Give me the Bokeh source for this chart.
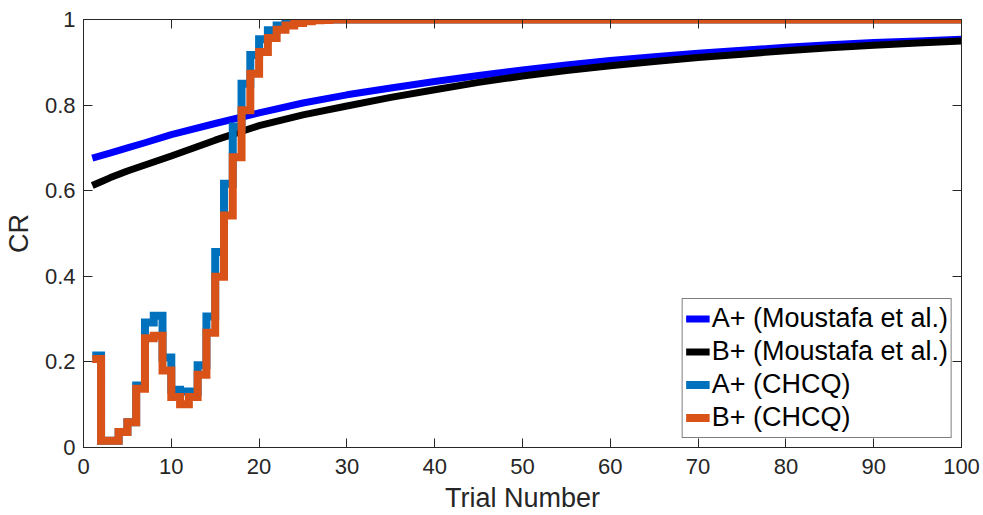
from bokeh.plotting import figure
from bokeh.models import Range1d, FixedTicker, LinearAxis, Legend, LegendItem
from bokeh.embed import file_html
from bokeh.resources import INLINE

# Trial-by-trial conditioned response (CHCQ model), one value per trial
trials = list(range(1, 101))
a_chcq = [0.215, 0.016, 0.016, 0.036, 0.059, 0.145, 0.292, 0.308, 0.210, 0.135,
          0.131, 0.130, 0.192, 0.306, 0.457, 0.616, 0.750, 0.850, 0.917, 0.954,
          0.975, 0.986, 0.993, 0.997, 0.999] + [1.0] * 75
b_chcq = [0.207, 0.016, 0.016, 0.036, 0.059, 0.137, 0.255, 0.261, 0.180, 0.118,
          0.101, 0.118, 0.170, 0.268, 0.399, 0.542, 0.678, 0.788, 0.873, 0.924,
          0.957, 0.976, 0.986, 0.992, 0.996, 0.998, 0.999] + [1.0] * 73

# Moustafa et al. curves, sampled along the trial axis
model_trials = [1, 2, 3, 5, 7, 10, 15, 20, 25, 30, 35, 40, 45, 50, 55, 60,
                65, 70, 75, 80, 85, 90, 95, 100]
a_model = [0.676, 0.682, 0.688, 0.700, 0.712, 0.731, 0.757, 0.782, 0.805, 0.824,
           0.840, 0.855, 0.869, 0.882, 0.894, 0.904, 0.913, 0.921, 0.928, 0.935,
           0.941, 0.946, 0.950, 0.954]
b_model = [0.612, 0.621, 0.630, 0.646, 0.660, 0.681, 0.718, 0.752, 0.777, 0.798,
           0.818, 0.836, 0.853, 0.868, 0.881, 0.892, 0.902, 0.911, 0.919, 0.927,
           0.934, 0.940, 0.945, 0.950]

x_ticks = [0, 10, 20, 30, 40, 50, 60, 70, 80, 90, 100]
y_ticks = [0, 0.2, 0.4, 0.6, 0.8, 1]
y_labels = {0: "0", 0.2: "0.2", 0.4: "0.4", 0.6: "0.6", 0.8: "0.8", 1: "1"}

FONT = "Liberation Sans"
AX = "#262626"

p = figure(width=983, height=515, output_backend="svg", toolbar_location=None,
           x_range=Range1d(0, 100), y_range=Range1d(0, 1),
           min_border_left=82, min_border_right=22, min_border_top=19,
           min_border_bottom=66)
p.grid.visible = False
p.outline_line_color = AX
p.outline_line_width = 1
p.background_fill_color = "white"
p.border_fill_color = "white"

r_a_model = p.line(model_trials, a_model, line_color="#0000FF", line_width=7,
                   line_join="round")
r_b_model = p.line(model_trials, b_model, line_color="#000000", line_width=7,
                   line_join="round")
r_a = p.step(trials, a_chcq, mode="after", line_color="#0072BD", line_width=8,
             line_join="miter")
r_b = p.step(trials, b_chcq, mode="after", line_color="#D95319", line_width=8,
             line_join="miter")


def style_axis(ax, ticks, labels=True):
    ax.ticker = FixedTicker(ticks=ticks)
    ax.axis_line_color = AX
    ax.major_tick_line_color = AX
    ax.major_tick_in = 9
    ax.major_tick_out = 0
    ax.minor_tick_line_color = None
    ax.major_label_text_font = FONT
    ax.major_label_text_font_size = "22px"
    ax.major_label_text_color = AX
    ax.axis_label_text_font = FONT
    ax.axis_label_text_font_size = "27px"
    ax.axis_label_text_font_style = "normal"
    ax.axis_label_text_color = AX
    if not labels:
        ax.major_label_text_color = None


style_axis(p.xaxis[0], x_ticks)
style_axis(p.yaxis[0], y_ticks)
p.yaxis[0].major_label_overrides = y_labels
p.xaxis[0].axis_label = "Trial Number"
p.yaxis[0].axis_label = "CR"
p.xaxis[0].major_label_standoff = 11
p.yaxis[0].major_label_standoff = 8
p.xaxis[0].axis_label_standoff = 6
p.yaxis[0].axis_label_standoff = 8

top = LinearAxis()
style_axis(top, x_ticks, labels=False)
p.add_layout(top, "above")
right = LinearAxis()
style_axis(right, y_ticks, labels=False)
p.add_layout(right, "right")
top.major_label_text_font_size = "0px"
right.major_label_text_font_size = "0px"

legend = Legend(items=[
    LegendItem(label="A+ (Moustafa et al.)", renderers=[r_a_model]),
    LegendItem(label="B+ (Moustafa et al.)", renderers=[r_b_model]),
    LegendItem(label="A+ (CHCQ)", renderers=[r_a]),
    LegendItem(label="B+ (CHCQ)", renderers=[r_b]),
], location="bottom_right")
legend.margin = 9
legend.padding = 3
legend.spacing = 0
legend.glyph_width = 24
legend.glyph_height = 33
legend.label_height = 33
legend.label_standoff = 2
legend.label_text_font = FONT
legend.label_text_font_size = "27px"
legend.label_text_color = "black"
legend.border_line_color = "black"
legend.border_line_width = 1
legend.background_fill_color = "white"
legend.background_fill_alpha = 1
p.add_layout(legend, "center")

open("out.html", "w").write(file_html(p, INLINE))
